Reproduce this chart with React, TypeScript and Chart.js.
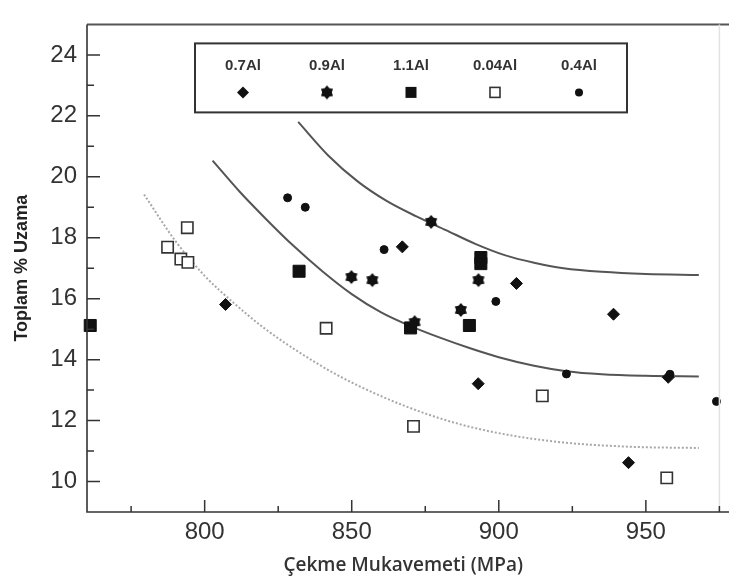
import React, { useEffect, useRef } from 'react';
import { Chart, registerables } from 'chart.js';

Chart.register(...registerables);

// ---- axis ranges / ticks ----
const xMin = 760;
const xMax = 975;
const yMin = 9;
const yMax = 25;
const xTickLabels = [800, 850, 900, 950];
const xMinorTicks = [775, 825, 875, 925, 975];
const yTickLabels = [10, 12, 14, 16, 18, 20, 22, 24];
const yMinorTicks = [11, 13, 15, 17, 19, 21, 23];

// ---- series ----
const seriesNames = ['0.7Al', '0.9Al', '1.1Al', '0.04Al', '0.4Al'];

const al07X = [807.1, 867.2, 906.0, 893.0, 939.0, 957.6, 944.1];
const al07Y = [15.81, 17.70, 16.50, 13.21, 15.49, 13.42, 10.62];

const al09X = [849.9, 857.0, 877.0, 893.1, 887.1, 871.4];
const al09Y = [16.71, 16.61, 18.52, 16.61, 15.63, 15.23];

const al11X = [761.1, 832.1, 870.0, 890.0, 893.9, 893.9];
const al11Y = [15.12, 16.90, 15.04, 15.12, 17.35, 17.15];

const al004X = [794.1, 787.4, 791.9, 794.3, 841.3, 871.0, 914.8, 957.1];
const al004Y = [18.33, 17.69, 17.30, 17.19, 15.03, 11.81, 12.81, 10.12];

const al04X = [828.2, 834.2, 861.0, 899.0, 923.0, 958.2, 974.0];
const al04Y = [19.31, 19.0, 17.61, 15.91, 13.53, 13.52, 12.63];

// ---- fitted curves ----
const upperX = [831.8, 842, 852, 862, 872, 882, 892, 902, 912, 922, 935, 950, 968];
const upperY = [21.8, 20.7, 19.85, 19.2, 18.7, 18.25, 17.8, 17.43, 17.18, 17.0, 16.88, 16.81, 16.78];

const middleX = [802.7, 812, 821, 830, 840, 850, 860, 870, 880, 890, 900, 912, 923, 935, 950, 968];
const middleY = [20.53, 19.5, 18.6, 17.75, 16.9, 16.15, 15.55, 15.1, 14.72, 14.38, 14.08, 13.8, 13.62, 13.52, 13.47, 13.45];

const lowerX = [779.4, 790, 800, 810, 820, 832, 845, 860, 876, 890, 905, 922, 945, 968];
const lowerY = [19.42, 17.9, 16.75, 15.85, 15.05, 14.25, 13.5, 12.8, 12.2, 11.8, 11.5, 11.28, 11.14, 11.1];

const toPts = (xs: number[], ys: number[]) => xs.map((x, i) => ({ x, y: ys[i] }));

function makeStar(size: number, outer: number, inner: number, points: number, color: string) {
  const c = document.createElement('canvas');
  c.width = size;
  c.height = size;
  const ctx = c.getContext('2d')!;
  ctx.fillStyle = color;
  ctx.beginPath();
  for (let i = 0; i < points * 2; i++) {
    const r = i % 2 === 0 ? outer : inner;
    const a = -Math.PI / 2 + (i * Math.PI) / points;
    const px = size / 2 + r * Math.cos(a);
    const py = size / 2 + r * Math.sin(a);
    if (i === 0) ctx.moveTo(px, py);
    else ctx.lineTo(px, py);
  }
  ctx.closePath();
  ctx.fill();
  return c;
}

export default function App() {
  const ref = useRef<HTMLCanvasElement | null>(null);

  useEffect(() => {
    if (!ref.current) return;
    const star = makeStar(16, 7, 4.8, 6, '#111');

    const markerStyles = [
      { pointStyle: 'rectRot', radius: 6, bg: '#111', border: '#111', bw: 1 },
      { pointStyle: star, radius: 7, bg: '#111', border: '#111', bw: 1 },
      { pointStyle: 'rect', radius: 8.5, bg: '#111', border: '#111', bw: 1 },
      { pointStyle: 'rect', radius: 8, bg: '#ffffff', border: '#333', bw: 1.6 },
      { pointStyle: 'circle', radius: 4, bg: '#111', border: '#111', bw: 1 },
    ];
    const seriesData = [
      toPts(al07X, al07Y),
      toPts(al09X, al09Y),
      toPts(al11X, al11Y),
      toPts(al004X, al004Y),
      toPts(al04X, al04Y),
    ];

    const scatterSets = seriesNames.map((name, i) => ({
      type: 'scatter' as const,
      label: name,
      data: seriesData[i],
      pointStyle: markerStyles[i].pointStyle as any,
      pointRadius: markerStyles[i].radius,
      pointBackgroundColor: markerStyles[i].bg,
      pointBorderColor: markerStyles[i].border,
      pointBorderWidth: markerStyles[i].bw,
      showLine: false,
      clip: false as any,
      order: 0,
    }));

    const lineSet = (xs: number[], ys: number[], color: string, dash: number[], width: number) => ({
      type: 'line' as const,
      label: '',
      data: toPts(xs, ys),
      borderColor: color,
      borderWidth: width,
      borderDash: dash,
      pointRadius: 0,
      fill: false,
      cubicInterpolationMode: 'monotone' as const,
      order: 1,
    });

    const frameAndTicks = {
      id: 'frameAndTicks',
      afterDraw(chart: any) {
        const { ctx, chartArea } = chart;
        const { left, right, top, bottom } = chartArea;
        const xs = chart.scales.x;
        const ys = chart.scales.y;
        ctx.save();
        ctx.strokeStyle = '#555';
        ctx.lineWidth = 2;
        ctx.beginPath();
        ctx.moveTo(left, top);
        ctx.lineTo(chart.width, top);
        ctx.stroke();
        ctx.strokeStyle = '#e2e2e2';
        ctx.lineWidth = 1.5;
        ctx.beginPath();
        ctx.moveTo(right, top);
        ctx.lineTo(right, bottom);
        ctx.stroke();
        ctx.strokeStyle = '#333';
        ctx.lineWidth = 1.6;
        ctx.beginPath();
        ctx.moveTo(left, top);
        ctx.lineTo(left, bottom);
        ctx.lineTo(chart.width, bottom);
        ctx.stroke();
        ctx.lineWidth = 1.5;
        ctx.beginPath();
        xTickLabels.forEach((v) => {
          const p = xs.getPixelForValue(v);
          ctx.moveTo(p, bottom);
          ctx.lineTo(p, bottom - 12);
        });
        xMinorTicks.forEach((v) => {
          const p = xs.getPixelForValue(v);
          ctx.moveTo(p, bottom);
          ctx.lineTo(p, bottom - 6);
        });
        yTickLabels.forEach((v) => {
          const p = ys.getPixelForValue(v);
          ctx.moveTo(left, p);
          ctx.lineTo(left + 13, p);
        });
        yMinorTicks.forEach((v) => {
          const p = ys.getPixelForValue(v);
          ctx.moveTo(left, p);
          ctx.lineTo(left + 7, p);
        });
        ctx.stroke();

        const bx = left + 108;
        const by = top + 19;
        const bw = 432;
        const bh = 69;
        ctx.fillStyle = '#ffffff';
        ctx.fillRect(bx, by, bw, bh);
        ctx.strokeStyle = '#333';
        ctx.lineWidth = 2;
        ctx.strokeRect(bx, by, bw, bh);
        ctx.font = 'bold 15px "Liberation Sans", Arial, sans-serif';
        ctx.textAlign = 'center';
        ctx.textBaseline = 'middle';
        seriesNames.forEach((name, i) => {
          const cx = bx + 48 + i * 84;
          ctx.fillStyle = '#333';
          ctx.fillText(name, cx, by + 22);
          const cy = by + 49;
          const ms = markerStyles[i];
          ctx.fillStyle = ms.bg;
          ctx.strokeStyle = ms.border;
          if (typeof ms.pointStyle !== 'string') {
            const img = ms.pointStyle as HTMLCanvasElement;
            ctx.drawImage(img, cx - img.width / 2, cy - img.height / 2);
          } else if (ms.pointStyle === 'rectRot') {
            ctx.beginPath();
            ctx.moveTo(cx, cy - 6);
            ctx.lineTo(cx + 6, cy);
            ctx.lineTo(cx, cy + 6);
            ctx.lineTo(cx - 6, cy);
            ctx.closePath();
            ctx.fill();
          } else if (ms.pointStyle === 'rect') {
            if (ms.bg === '#ffffff') {
              ctx.lineWidth = 1.6;
              ctx.fillRect(cx - 5, cy - 5, 10, 10);
              ctx.strokeRect(cx - 5, cy - 5, 10, 10);
            } else {
              ctx.fillRect(cx - 5.5, cy - 5.5, 11, 11);
            }
          } else {
            ctx.beginPath();
            ctx.arc(cx, cy, 4, 0, Math.PI * 2);
            ctx.fill();
          }
        });
        ctx.restore();
      },
    };

    const chart = new Chart(ref.current, {
      type: 'scatter',
      data: {
        datasets: [
          ...scatterSets,
          lineSet(upperX, upperY, '#555', [], 2),
          lineSet(middleX, middleY, '#555', [], 2),
          lineSet(lowerX, lowerY, '#a8a8a8', [2, 2], 2),
        ] as any,
      },
      options: {
        responsive: false,
        animation: false,
        devicePixelRatio: 1,
        layout: { padding: { left: 0, right: 7, top: 9, bottom: 0 } },
        plugins: {
          legend: { display: false },
          tooltip: { enabled: false },
        },
        scales: {
          x: {
            type: 'linear',
            min: xMin,
            max: xMax,
            grid: { display: false, drawTicks: false },
            border: { display: false },
            afterBuildTicks: (s: any) => {
              s.ticks = xTickLabels.map((v) => ({ value: v }));
            },
            afterFit: (s: any) => {
              s.height = 69;
            },
            ticks: {
              padding: 6,
              color: '#333',
              font: { family: '"Liberation Sans", Arial, sans-serif', size: 24 },
              maxRotation: 0,
            },
            title: {
              display: true,
              text: 'Çekme Mukavemeti (MPa)',
              color: '#333',
              font: { family: '"Open Sans", sans-serif', size: 19, weight: '600' },
              padding: { top: 0, bottom: 4 },
            },
          },
          y: {
            type: 'linear',
            min: yMin,
            max: yMax,
            grid: { display: false, drawTicks: false },
            border: { display: false },
            afterBuildTicks: (s: any) => {
              s.ticks = yTickLabels.map((v) => ({ value: v }));
            },
            afterFit: (s: any) => {
              s.width = 87;
            },
            ticks: {
              padding: 10,
              color: '#333',
              font: { family: '"Liberation Sans", Arial, sans-serif', size: 24 },
            },
            title: {
              display: true,
              text: 'Toplam % Uzama',
              color: '#222',
              font: { family: '"Liberation Sans", Arial, sans-serif', size: 18, weight: 'bold' },
              padding: { top: 11, bottom: 0 },
            },
          },
        },
      },
      plugins: [frameAndTicks],
    });

    return () => chart.destroy();
  }, []);

  return (
    <div style={{ position: 'fixed', left: 0, top: 0, width: 729, height: 581, background: '#fff' }}>
      <canvas ref={ref} width={729} height={581} style={{ display: 'block' }} />
    </div>
  );
}
